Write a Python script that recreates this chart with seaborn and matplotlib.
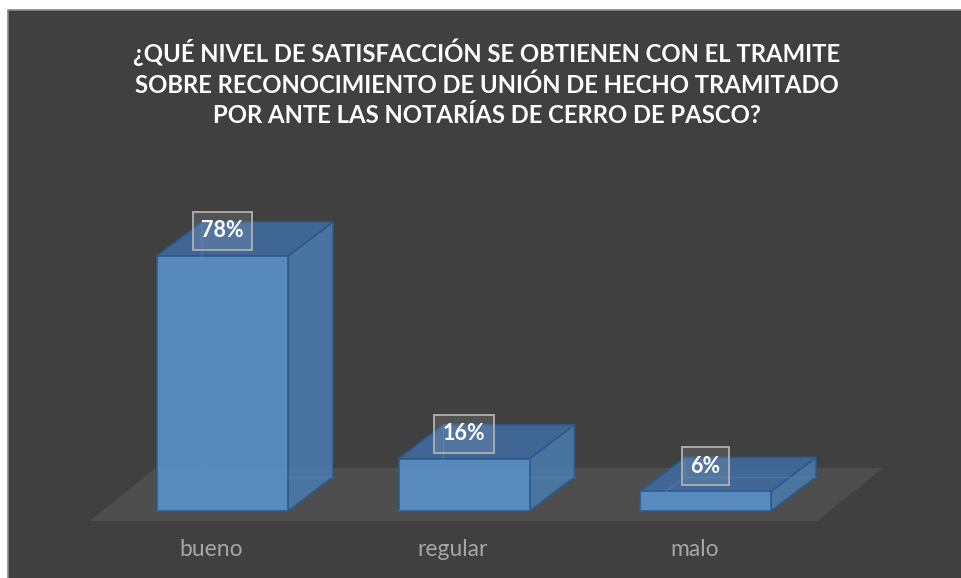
import numpy as np
import pandas as pd
import matplotlib
matplotlib.use("Agg")
import matplotlib.pyplot as plt
from matplotlib.patches import Polygon, Rectangle
import seaborn as sns

# data
categories = ["bueno", "regular", "malo"]
values = [78, 16, 6]
title_lines = [
    "¿QUÉ NIVEL DE SATISFACCIÓN SE OBTIENEN CON EL TRAMITE",
    "SOBRE RECONOCIMIENTO DE UNIÓN DE HECHO TRAMITADO",
    "POR ANTE LAS NOTARÍAS DE CERRO DE PASCO?",
]

BG = "#404040"
FLOOR = "#4f4e4e"
FRONT = "#5a8ec5"
SIDE = "#4a78a6"
TOP = "#40699a"
EDGE = "#2b5a8a"

sns.set_theme(style="dark")
plt.rcParams["font.family"] = ["Lato", "DejaVu Sans"]

fig = plt.figure(figsize=(9.62, 5.78), dpi=100, facecolor="white")
# chart area with thin border, cut at right/bottom like the screenshot
fig.patches.append(Rectangle((8 / 962, -0.01), 1.0, 1 - 10 / 578 + 0.01,
                             transform=fig.transFigure, facecolor=BG,
                             edgecolor="#8a8a8a", linewidth=1.2, zorder=-5))

ax = fig.add_axes([0, 0, 1, 1])
ax.set_facecolor("none")
ax.set_zorder(2)

# pixel based scale: bar spacing 241.5px, 3.27px per percent
px_x, px_y = 241.5, 3.27

dx = 45 / px_x
dy = 34 / px_y

df = pd.DataFrame({"cat": categories, "val": values})
sns.barplot(data=df, x="cat", y="val", width=131 / px_x, color=FRONT,
            saturation=1, edgecolor=EDGE, linewidth=1.2, ax=ax, zorder=4)
bars = list(ax.containers[0])

ax.set_xlim(-222.5 / px_x, (962 - 222.5) / px_x)
ax.set_ylim((511 - 578) / px_y, 511 / px_y)

# floor
fl, fr = (90 - 222.5) / px_x, (817 - 222.5) / px_x
fb, ft = (511 - 521) / px_y, (511 - 468) / px_y
sk = 66 / px_x
ax.add_patch(Polygon([(fl, fb), (fr, fb), (fr + sk, ft), (fl + sk, ft)],
                     closed=True, facecolor=FLOOR, edgecolor="none", zorder=1))

for p, v in zip(bars, values):
    x0, w, h = p.get_x(), p.get_width(), p.get_height()
    x1 = x0 + w
    p.set_alpha(0.95)
    side = Polygon([(x1, 0), (x1 + dx, dy), (x1 + dx, h + dy), (x1, h)],
                   closed=True, facecolor=SIDE, edgecolor=EDGE, lw=1.2,
                   alpha=0.95, zorder=3)
    top = Polygon([(x0, h), (x1, h), (x1 + dx, h + dy), (x0 + dx, h + dy)],
                  closed=True, facecolor=TOP, edgecolor=EDGE, lw=1.2,
                  alpha=0.95, zorder=3)
    ax.add_patch(side)
    ax.add_patch(top)
    # faint hidden edges seen through the translucent box
    ax.plot([x0, x0 + dx, x0 + dx], [0, dy, h + dy], color=FRONT, lw=1,
            alpha=0.35, zorder=5)
    ax.plot([x0 + dx, x1 + dx], [dy, dy], color=FRONT, lw=1, alpha=0.35,
            zorder=5)
    ax.annotate(f"{v}%", (x0 + w / 2, h), xytext=(0, 18),
                textcoords="offset points", ha="center", va="center",
                fontsize=15.5, fontweight="bold", color="white", zorder=7,
                bbox=dict(boxstyle="square,pad=0.4", fc=(1, 1, 1, 0.1),
                          ec="#b0b0b0", lw=1.3))

for i, c in enumerate(categories):
    ax.text(i - 11 / px_x, (511 - 550) / px_y, c, ha="center", va="center",
            fontsize=16.5, color="#a6a6a6", zorder=7)

ax.set_xticks([])
ax.set_yticks([])
ax.set_xlabel("")
ax.set_ylabel("")
for s in ax.spines.values():
    s.set_visible(False)

fig.text(487 / 962, 1 - 83 / 578, "\n".join(title_lines), ha="center",
         va="center", fontsize=17.2, fontweight="bold", color="white",
         linespacing=1.38)

fig.savefig("out.png", dpi=100, facecolor="white")
